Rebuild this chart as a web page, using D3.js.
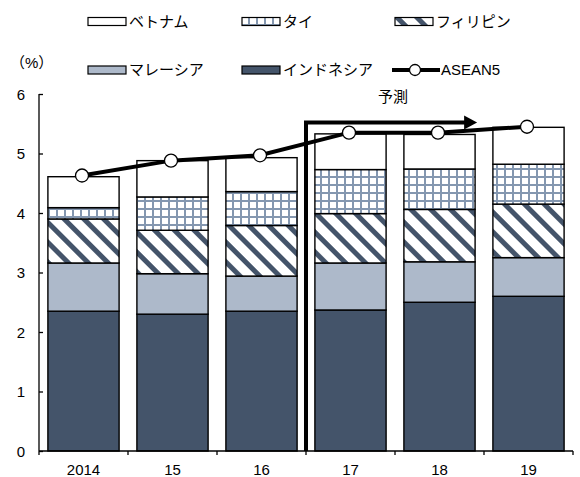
<!DOCTYPE html>
<html>
<head>
<meta charset="utf-8">
<script src="https://cdn.jsdelivr.net/npm/d3@7"></script>
<style>
  body { margin: 0; background: #fff; }
  svg { display: block; }
  text { font-family: "Liberation Sans", "Noto Sans CJK JP", sans-serif; fill: #000; }
</style>
</head>
<body>
<svg id="chart" width="580" height="477"></svg>
<script>
// Contributions to ASEAN5 growth by country (percentage points), 2014-19
const years = ["2014", "15", "16", "17", "18", "19"];
const indonesia   = [2.35, 2.30, 2.35, 2.37, 2.50, 2.60];
const malaysia    = [0.81, 0.68, 0.59, 0.79, 0.68, 0.65];
const philippines = [0.74, 0.73, 0.85, 0.83, 0.88, 0.90];
const thailand    = [0.19, 0.56, 0.57, 0.74, 0.68, 0.67];
const vietnam     = [0.52, 0.61, 0.57, 0.60, 0.58, 0.62];
const asean5      = [4.63, 4.88, 4.97, 5.35, 5.35, 5.45];
const yTicks = [0, 1, 2, 3, 4, 5, 6];
const forecastStart = "17";

const seriesKeys = ["インドネシア", "マレーシア", "フィリピン", "タイ", "ベトナム"];
const seriesValues = [indonesia, malaysia, philippines, thailand, vietnam];

const dark = "#44546a", light = "#adb9ca", gridBlue = "#8497b0";
const fills = {
  "インドネシア": dark,
  "マレーシア": light,
  "フィリピン": "url(#stripes)",
  "タイ": "url(#grid)",
  "ベトナム": "#ffffff"
};

const svg = d3.select("#chart");

// Patterns
const defs = svg.append("defs");
const grid = defs.append("pattern").attr("id", "grid")
  .attr("patternUnits", "userSpaceOnUse").attr("width", 8).attr("height", 8);
grid.append("rect").attr("width", 8).attr("height", 8).attr("fill", "#fff");
grid.append("rect").attr("x", 0).attr("y", 0).attr("width", 2).attr("height", 8).attr("fill", gridBlue);
grid.append("rect").attr("x", 0).attr("y", 0).attr("width", 8).attr("height", 2).attr("fill", gridBlue);

const stripes = defs.append("pattern").attr("id", "stripes")
  .attr("patternUnits", "userSpaceOnUse").attr("width", 14).attr("height", 14)
  .attr("patternTransform", "rotate(-45)");
stripes.append("rect").attr("width", 14).attr("height", 14).attr("fill", "#fff");
stripes.append("rect").attr("x", 0).attr("width", 5).attr("height", 14).attr("fill", dark);

// Scales
const x = d3.scaleBand().domain(years).range([39, 573]).paddingInner(0.2).paddingOuter(0.1);
const y = d3.scaleLinear().domain([0, 6]).range([451, 94]);

// Stacked data
const rows = years.map((yr, i) => {
  const r = { year: yr };
  seriesKeys.forEach((k, j) => { r[k] = seriesValues[j][i]; });
  return r;
});
const stacked = d3.stack().keys(seriesKeys)(rows);

// Bars
svg.append("g").selectAll("g").data(stacked).join("g")
  .attr("fill", d => fills[d.key])
  .selectAll("rect").data(d => d).join("rect")
  .attr("x", d => x(d.data.year))
  .attr("width", x.bandwidth())
  .attr("y", d => y(d[1]))
  .attr("height", d => y(d[0]) - y(d[1]))
  .attr("stroke", "#000").attr("stroke-width", 1.4);

// Axes
const yAxis = svg.append("g").attr("transform", "translate(39,0)")
  .call(d3.axisRight(y).tickValues(yTicks).tickSize(4).tickFormat(d3.format("d")));
yAxis.select(".domain").attr("stroke", "#000").attr("stroke-width", 1.3).attr("d", `M0,${y(6)}V${y(0)}`);
yAxis.selectAll(".tick line").attr("stroke", "#000").attr("stroke-width", 1.3);
yAxis.selectAll(".tick text").attr("x", -14).attr("text-anchor", "end")
  .attr("font-size", 15).attr("dy", "0.35em");

const xAxis = svg.append("g").attr("transform", `translate(0,${y(0)})`)
  .call(d3.axisBottom(x).tickSize(0).tickPadding(13));
xAxis.select(".domain").attr("stroke", "#000").attr("stroke-width", 1.3).attr("d", "M39,0H573");
xAxis.selectAll(".tick text").attr("font-size", 15);
// Category separators below the axis
const step = x.step();
svg.append("g").selectAll("line").data(d3.range(years.length + 1)).join("line")
  .attr("x1", i => 39 + i * step).attr("x2", i => 39 + i * step)
  .attr("y1", y(0)).attr("y2", y(0) + 4)
  .attr("stroke", "#000").attr("stroke-width", 1.3);

// Forecast bracket arrow
const fx = x(forecastStart) - x.step() * x.paddingInner() / 2;
const arrowY = 122.5;
const arrowEnd = x("18") + x.bandwidth() + 2;
svg.append("path")
  .attr("d", `M${fx},${y(0)}V${arrowY}H${arrowEnd - 12}`)
  .attr("fill", "none").attr("stroke", "#000").attr("stroke-width", 4);
svg.append("path")
  .attr("d", `M${arrowEnd - 13},${arrowY - 7}L${arrowEnd},${arrowY}L${arrowEnd - 13},${arrowY + 7}Z`)
  .attr("fill", "#000");
svg.append("text").attr("x", (x("17") + x("18") + x.bandwidth()) / 2 - 2).attr("y", 97)
  .attr("dy", "0.35em").attr("text-anchor", "middle").attr("font-size", 15)
  .text("予測");

// ASEAN5 line
const cx = d => x(d.year) + x.bandwidth() / 2 - 1.5;
const linePts = years.map((yr, i) => ({ year: yr, v: asean5[i] }));
svg.append("path").datum(linePts)
  .attr("d", d3.line().x(cx).y(d => y(d.v)))
  .attr("fill", "none").attr("stroke", "#000").attr("stroke-width", 4);
svg.append("g").selectAll("circle").data(linePts).join("circle")
  .attr("cx", cx).attr("cy", d => y(d.v)).attr("r", 6.5)
  .attr("fill", "#fff").attr("stroke", "#000").attr("stroke-width", 1.3);

// Unit label
svg.append("text").attr("x", 10).attr("y", 63).attr("dy", "0.35em")
  .attr("font-size", 15).attr("font-family", "Noto Sans CJK JP").text("（%）");

// Legend
const legendItems = [
  { name: "ベトナム", fill: fills["ベトナム"], x: 88, y: 21.5 },
  { name: "タイ", fill: fills["タイ"], x: 242, y: 21.5 },
  { name: "フィリピン", fill: fills["フィリピン"], x: 395, y: 21.5 },
  { name: "マレーシア", fill: fills["マレーシア"], x: 88, y: 70 },
  { name: "インドネシア", fill: fills["インドネシア"], x: 242, y: 70 }
];
const lg = svg.append("g");
legendItems.forEach(it => {
  lg.append("rect").attr("x", it.x).attr("y", it.y - 4).attr("width", 38).attr("height", 8)
    .attr("fill", it.fill).attr("stroke", "#000").attr("stroke-width", 1.2);
  lg.append("text").attr("x", it.x + 41).attr("y", it.y).attr("dy", "0.35em")
    .attr("font-size", 15).text(it.name);
});
lg.append("line").attr("x1", 392).attr("x2", 440).attr("y1", 70).attr("y2", 70)
  .attr("stroke", "#000").attr("stroke-width", 4);
lg.append("circle").attr("cx", 415).attr("cy", 70).attr("r", 5.5)
  .attr("fill", "#fff").attr("stroke", "#000").attr("stroke-width", 1.3);
lg.append("text").attr("x", 441).attr("y", 70).attr("dy", "0.35em")
  .attr("font-size", 15).text("ASEAN5");
</script>
</body>
</html>
